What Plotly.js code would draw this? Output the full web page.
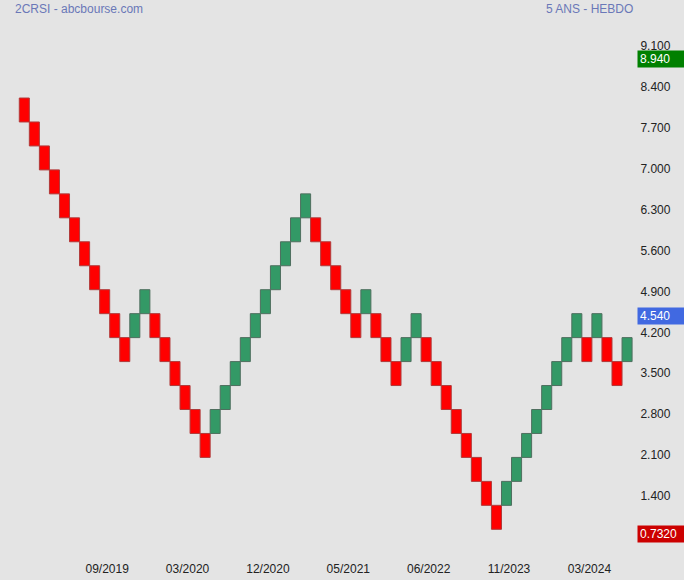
<!DOCTYPE html>
<html>
<head>
<meta charset="utf-8">
<script src="https://cdn.plot.ly/plotly-3.0.1.min.js"></script>
<style>html,body{margin:0;padding:0;background:#e4e4e4;}#chart{width:684px;height:580px;}</style>
</head>
<body>
<div id="chart"></div>
<script>
// Renko box size and bricks (lower edge of each brick, direction U/D)
const boxSize = 0.41;
const brickLow = [7.80,7.39,6.98,6.57,6.16,5.75,5.34,4.93,4.52,4.11,3.70,
  4.11,4.52,
  4.11,3.70,3.29,2.88,2.47,2.06,
  2.47,2.88,3.29,3.70,4.11,4.52,4.93,5.34,5.75,6.16,
  5.75,5.34,4.93,4.52,4.11,
  4.52,
  4.11,3.70,3.29,
  3.70,4.11,
  3.70,3.29,2.88,2.47,2.06,1.65,1.24,0.83,
  1.24,1.65,2.06,2.47,2.88,3.29,3.70,4.11,
  3.70,
  4.11,
  3.70,3.29,
  3.70];
const brickDir = "DDDDDDDDDDD"+"UU"+"DDDDDD"+"UUUUUUUUUU"+"DDDDD"+"U"+"DDD"+"UU"+"DDDDDDDD"+"UUUUUUUU"+"D"+"U"+"DD"+"U";
// X tick labels and the brick column where each appears
const dateLabels = ["09/2019","03/2020","12/2020","05/2021","06/2022","11/2023","03/2024"];
const dateCols = [8,16,24,32,40,48,56];
// Y ticks
const priceTicks = [1.4,2.1,2.8,3.5,4.2,4.9,5.6,6.3,7.0,7.7,8.4,9.1];
// Price markers
const highPrice = 8.94, lastPrice = 4.54, lowPrice = 0.732;

const xs = brickLow.map((_, i) => i);
const fill = brickDir.split('').map(d => d === 'U' ? '#339966' : '#ff0000');
const edge = brickDir.split('').map(d => d === 'U' ? '#4f6f5f' : '#b03a3a');

const trace = {
  type: 'bar',
  x: xs,
  y: brickLow.map(() => boxSize),
  base: brickLow,
  width: 1,
  marker: {color: fill, line: {color: edge, width: 1}},
  hoverinfo: 'skip'
};

const fontFam = 'Liberation Sans, Arial, sans-serif';
function priceLabel(v, txt, bg, shift) {
  return {xref: 'paper', yref: 'y', x: 1, y: v, xanchor: 'left', yanchor: 'middle',
    xshift: 1, yshift: shift, text: txt, showarrow: false, bgcolor: bg, width: 43, height: 12,
    borderpad: 2, align: 'left', font: {family: fontFam, size: 12, color: '#ffffff'}};
}

const layout = {
  width: 684, height: 580,
  paper_bgcolor: '#e4e4e4', plot_bgcolor: '#e4e4e4',
  margin: {l: 0, r: 48, t: 30, b: 32},
  showlegend: false,
  bargap: 0,
  xaxis: {
    range: [-2.42, 60.89], showgrid: false, zeroline: false, showline: false,
    tickmode: 'array', tickvals: dateCols.map(c => c + 0.25), ticktext: dateLabels,
    ticks: 'outside', ticklen: 10, tickcolor: 'rgba(0,0,0,0)',
    tickfont: {family: fontFam, size: 12, color: '#222222'}, fixedrange: true
  },
  yaxis: {
    side: 'right', range: [0.51, 9.374], showgrid: false, zeroline: false, showline: false,
    tickmode: 'array', tickvals: priceTicks, ticktext: priceTicks.map(v => v.toFixed(3)),
    ticks: 'outside', ticklen: 1, tickcolor: 'rgba(0,0,0,0)',
    tickfont: {family: fontFam, size: 12, color: '#222222'}, fixedrange: true
  },
  annotations: [
    {xref: 'paper', yref: 'paper', x: 13/636, y: (548-9)/518, xanchor: 'left', yanchor: 'middle',
     text: '2CRSI - abcbourse.com', showarrow: false, font: {family: fontFam, size: 12, color: '#6a78b8'}},
    {xref: 'paper', yref: 'paper', x: 635/636, y: (548-9)/518, xanchor: 'right', yanchor: 'middle',
     text: '5 ANS - HEBDO', showarrow: false, font: {family: fontFam, size: 12, color: '#6a78b8'}},
    priceLabel(highPrice, highPrice.toFixed(3), '#008000', -3.5),
    priceLabel(lastPrice, lastPrice.toFixed(3), '#4169e1', -3.5),
    priceLabel(lowPrice, lowPrice.toFixed(4), '#cc0000', 1.5)
  ]
};

Plotly.newPlot('chart', [trace], layout, {displayModeBar: false, staticPlot: true});
</script>
</body>
</html>
